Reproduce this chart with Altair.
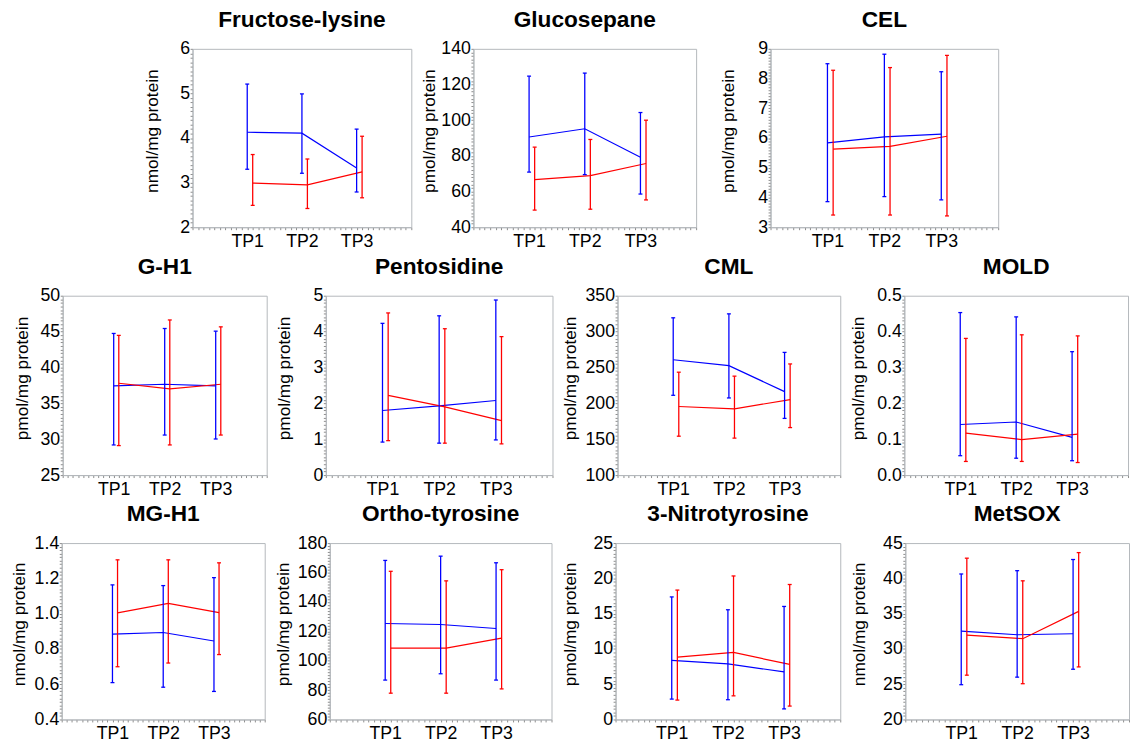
import altair as alt
import pandas as pd

TP_LABELS = ["TP1", "TP2", "TP3"]
SERIES = ["blue", "red"]
SERIES_COLORS = ["#0000ff", "#ff0000"]
RED_SHIFT = 0.1

fructose_lysine = {"blue_mean": [4.13, 4.11, 3.33], "blue_lo": [3.30, 3.21, 2.79], "blue_hi": [5.21, 4.99, 4.20],
                   "red_mean": [2.99, 2.95, 3.24], "red_lo": [2.49, 2.42, 2.66], "red_hi": [3.63, 3.53, 4.04]}
glucosepane = {"blue_mean": [90.6, 95.2, 79.2], "blue_lo": [70.9, 69.5, 58.6], "blue_hi": [124.7, 126.4, 104.3],
               "red_mean": [66.7, 68.9, 75.7], "red_lo": [49.6, 50.1, 55.3], "red_hi": [84.9, 89.2, 100.0]}
cel = {"blue_mean": [5.84, 6.04, 6.13], "blue_lo": [3.86, 4.03, 3.92], "blue_hi": [8.50, 8.82, 8.23],
       "red_mean": [5.63, 5.72, 6.06], "red_lo": [3.41, 3.41, 3.38], "red_hi": [8.28, 8.37, 8.78]}
g_h1 = {"blue_mean": [37.43, 37.66, 37.43], "blue_lo": [29.2, 30.58, 30.03], "blue_hi": [44.74, 45.43, 45.06],
        "red_mean": [37.8, 37.02, 37.66], "red_lo": [29.11, 29.2, 30.58], "red_hi": [44.47, 46.62, 45.66]}
pentosidine = {"blue_mean": [1.80, 1.93, 2.08], "blue_lo": [0.92, 0.89, 0.98], "blue_hi": [4.23, 4.44, 4.88],
               "red_mean": [2.22, 1.90, 1.52], "red_lo": [0.96, 0.89, 0.87], "red_hi": [4.52, 4.08, 3.86]}
cml = {"blue_mean": [260.8, 252.6, 216.3], "blue_lo": [211.2, 207.5, 179.0], "blue_hi": [319.2, 324.7, 271.0],
       "red_mean": [195.6, 192.4, 205.2], "red_lo": [154.2, 151.5, 166.2], "red_hi": [243.4, 237.9, 254.9]}
mold = {"blue_mean": [0.141, 0.148, 0.105], "blue_lo": [0.054, 0.047, 0.040], "blue_hi": [0.453, 0.441, 0.344],
        "red_mean": [0.117, 0.099, 0.114], "red_lo": [0.038, 0.038, 0.035], "red_hi": [0.381, 0.391, 0.388]}
mg_h1 = {"blue_mean": [0.884, 0.893, 0.845], "blue_lo": [0.609, 0.583, 0.559], "blue_hi": [1.163, 1.159, 1.204],
         "red_mean": [1.004, 1.058, 1.006], "red_lo": [0.699, 0.720, 0.768], "red_hi": [1.305, 1.305, 1.288]}
ortho_tyrosine = {"blue_mean": [125.3, 124.6, 121.9], "blue_lo": [86.8, 91.1, 86.8], "blue_hi": [168.2, 171.1, 166.6],
                  "red_mean": [108.5, 108.5, 115.4], "red_lo": [77.9, 77.9, 80.8], "red_hi": [160.8, 154.3, 161.9]}
nitrotyrosine = {"blue_mean": [8.38, 7.87, 6.75], "blue_lo": [2.89, 2.80, 1.50], "blue_hi": [17.37, 15.55, 16.02],
                 "red_mean": [8.85, 9.50, 7.80], "red_lo": [2.75, 3.35, 1.90], "red_hi": [18.34, 20.34, 19.13]}
metsox = {"blue_mean": [32.52, 32.01, 32.15], "blue_lo": [24.93, 26.0, 27.12], "blue_hi": [40.62, 41.09, 42.67],
          "red_mean": [31.96, 31.45, 35.32], "red_lo": [26.28, 25.07, 27.45], "red_hi": [42.86, 39.65, 43.65]}

NMOL = "nmol/mg protein"
PMOL = "pmol/mg protein"

FONT = "Liberation Sans"
FRAME = "#b4b8bc"


def panel(name, unit, vals, dom, step, fmt, w, h, ext):
    rows = []
    for g, shift in zip(SERIES, [0.0, RED_SHIFT]):
        for i in range(len(TP_LABELS)):
            rows.append({"x": i + 1 + shift, "mean": vals[g + "_mean"][i],
                         "lo": vals[g + "_lo"][i], "hi": vals[g + "_hi"][i], "grp": g})
    df = pd.DataFrame(rows)

    minor = step / 10.0
    n = int(round((dom[1] - dom[0]) / minor))
    yvals = [round(dom[0] + k * minor, 6) for k in range(n + 1)]
    xvals = [round(k * 0.1, 1) for k in range(41)]

    xlab = "''"
    for i in reversed(range(len(TP_LABELS))):
        xlab = f"abs(datum.value-{i + 1})<0.01 ? '{TP_LABELS[i]}' : ({xlab})"
    ylab = (f"abs((datum.value-{dom[0]})/{step} - round((datum.value-{dom[0]})/{step})) < 0.001"
            f" ? format(datum.value, '{fmt}') : ''")

    xscale = alt.Scale(domain=[0, 4], nice=False, zero=False)
    yscale = alt.Scale(domain=dom, nice=False, zero=False)
    color = alt.Color("grp:N", scale=alt.Scale(domain=SERIES, range=SERIES_COLORS), legend=None)

    xaxis = alt.Axis(values=xvals, labelExpr=xlab, title=None, grid=False, tickSize=2.5,
                     labelPadding=3, labelFlush=False, labelOverlap=False)
    yaxis = alt.Axis(values=yvals, labelExpr=ylab, title=unit, grid=False, tickSize=2.5,
                     labelPadding=0.5, labelOverlap=False, minExtent=ext, maxExtent=ext,
                     titlePadding=0, titleY=h / 2 - 7.5)

    def X():
        return alt.X("x:Q", scale=xscale, axis=xaxis)

    def Y(field):
        return alt.Y(f"{field}:Q", scale=yscale, axis=yaxis, title=unit)

    base = alt.Chart(df)
    line = base.mark_line(strokeWidth=1.2).encode(x=X(), y=Y("mean"), color=color)
    bars = base.mark_rule(strokeWidth=1.3).encode(x=X(), y=Y("lo"), y2="hi:Q", color=color)
    cap_hi = base.mark_rule(strokeWidth=1.3, xOffset=-2, x2Offset=2).encode(
        x=X(), x2=alt.X2("x"), y=Y("hi"), color=color)
    cap_lo = base.mark_rule(strokeWidth=1.3, xOffset=-2, x2Offset=2).encode(
        x=X(), x2=alt.X2("x"), y=Y("lo"), color=color)
    return alt.layer(line, bars, cap_hi, cap_lo).properties(
        width=w, height=h,
        title=alt.TitleParams(name, fontSize=23, fontWeight="bold", font=FONT, offset=8,
                              frame="group", anchor="middle", color="black"),
    )


p_fru = panel("Fructose-lysine", NMOL, fructose_lysine, [2, 6], 1, "d", 222, 181, 32)
p_glu = panel("Glucosepane", PMOL, glucosepane, [40, 140], 20, "d", 226, 181, 35.5)
p_cel = panel("CEL", PMOL, cel, [3, 9], 1, "d", 231, 181, 34)
p_gh1 = panel("G-H1", PMOL, g_h1, [25, 50], 5, "d", 207, 182, 32)
p_pen = panel("Pentosidine", PMOL, pentosidine, [0, 5], 1, "d", 230, 182, 32.5)
p_cml = panel("CML", PMOL, cml, [100, 350], 50, "d", 226, 182, 38.5)
p_mold = panel("MOLD", PMOL, mold, [0, 0.5], 0.1, ".1f", 227, 182, 37.5)
p_mgh1 = panel("MG-H1", NMOL, mg_h1, [0.4, 1.4], 0.2, ".1f", 206, 179, 34)
p_ort = panel("Ortho-tyrosine", PMOL, ortho_tyrosine, [60, 180], 20, "d", 225, 179, 37.5)
p_nit = panel("3-Nitrotyrosine", PMOL, nitrotyrosine, [0, 25], 5, "d", 228, 179, 36.5)
p_met = panel("MetSOX", NMOL, metsox, [20, 45], 5, "d", 227, 179, 37.5)

row1 = alt.hconcat(alt.hconcat(p_fru, p_glu, spacing=8), p_cel, spacing=21.5)
row2 = alt.hconcat(p_gh1, p_pen, p_cml, p_mold, spacing=8)
row3 = alt.hconcat(p_mgh1, p_ort, p_nit, p_met, spacing=8)

top_rows = alt.vconcat(row1, row2, spacing=4.5, center=True)
chart = alt.vconcat(top_rows, row3, spacing=3.5, center=True).properties(
    padding={"left": 1.5, "top": -5, "right": 0, "bottom": 0}
).configure(font=FONT).configure_view(
    stroke=FRAME, strokeWidth=1
).configure_axis(
    domainColor=FRAME, tickColor="#8c8c8c", labelColor="black", titleColor="black",
    labelFont=FONT, titleFont=FONT, labelFontSize=18, titleFontSize=17.5,
    titleFontWeight="normal", grid=False,
)

chart.save("out.html", embed_options={"renderer": "svg", "actions": False})
